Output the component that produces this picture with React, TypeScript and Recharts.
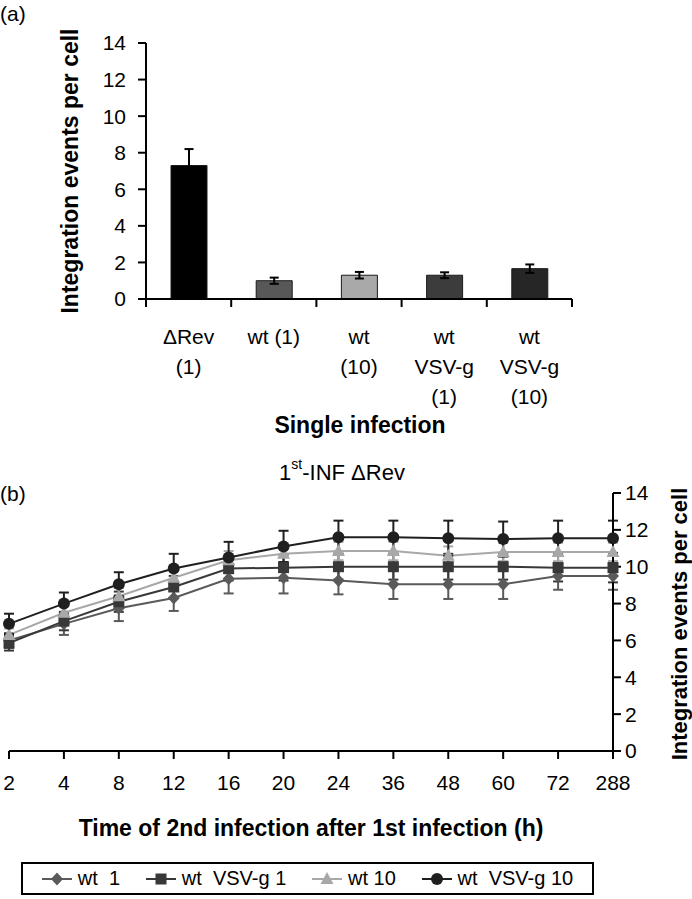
import { BarChart, Bar, Cell, XAxis, YAxis, ErrorBar, LineChart, Line } from 'recharts';

const FONT = "'Liberation Sans', Arial, Helvetica, sans-serif";

// panel (a): single infection
const singleLabels = ['ΔRev\n(1)', 'wt (1)', 'wt\n(10)', 'wt\nVSV-g\n(1)', 'wt\nVSV-g\n(10)'];
const singleValues = [7.3, 1.0, 1.3, 1.3, 1.66];
const singleErrors = [0.9, 0.17, 0.18, 0.16, 0.23];
const singleColors = ['#000000', '#585858', '#a9a9a9', '#3c3c3c', '#262626'];

// panel (b): 2nd infection time course
const hours = ['2', '4', '8', '12', '16', '20', '24', '36', '48', '60', '72', '288'];
const wt1 = [6.0, 6.9, 7.75, 8.3, 9.35, 9.4, 9.25, 9.05, 9.05, 9.05, 9.5, 9.5];
const wt1Err = [0.4, 0.6, 0.7, 0.7, 0.8, 0.85, 0.75, 0.8, 0.8, 0.8, 0.75, 0.75];
const vsv1 = [5.85, 7.05, 8.1, 8.9, 9.9, 9.95, 10.0, 10.0, 10.0, 10.0, 9.95, 9.95];
const vsv1Err = [0.4, 0.5, 0.55, 0.6, 0.65, 0.7, 0.7, 0.7, 0.7, 0.7, 0.75, 0.8];
const wt10 = [6.3, 7.5, 8.4, 9.4, 10.35, 10.7, 10.85, 10.85, 10.6, 10.8, 10.8, 10.8];
const wt10Err = [0.35, 0.4, 0.45, 0.5, 0.5, 0.5, 0.5, 0.5, 0.5, 0.5, 0.5, 0.5];
const vsv10 = [6.9, 8.0, 9.05, 9.9, 10.5, 11.1, 11.6, 11.6, 11.55, 11.5, 11.55, 11.55];
const vsv10Err = [0.55, 0.6, 0.65, 0.8, 0.85, 0.85, 0.9, 0.9, 0.95, 0.95, 0.95, 0.95];

const seriesNames = ['wt  1', 'wt  VSV-g 1', 'wt 10', 'wt  VSV-g 10'];
const seriesKeys = ['wt1', 'vsv1', 'wt10', 'vsv10'];
const seriesColors = ['#5a5a5a', '#383838', '#a8a8a8', '#1f1f1f'];
const seriesShapes = ['diamond', 'square', 'triangle', 'circle'];

const yTicks = [0, 2, 4, 6, 8, 10, 12, 14];

const barData = singleLabels.map((label, i) => ({
  label,
  value: singleValues[i],
  err: singleErrors[i],
}));

const lineData = hours.map((h, i) => ({
  hour: h,
  wt1: wt1[i],
  wt1Err: wt1Err[i],
  vsv1: vsv1[i],
  vsv1Err: vsv1Err[i],
  wt10: wt10[i],
  wt10Err: wt10Err[i],
  vsv10: vsv10[i],
  vsv10Err: vsv10Err[i],
}));

const Marker = ({ shape, cx, cy, color }: any) => {
  if (cx == null || cy == null) return null;
  if (shape === 'circle') return <circle cx={cx} cy={cy} r={6} fill={color} />;
  if (shape === 'square') return <rect x={cx - 5.5} y={cy - 5.5} width={11} height={11} fill={color} />;
  if (shape === 'triangle')
    return <polygon points={`${cx},${cy - 7} ${cx + 6.5},${cy + 5} ${cx - 6.5},${cy + 5}`} fill={color} />;
  return <polygon points={`${cx},${cy - 6.5} ${cx + 6},${cy} ${cx},${cy + 6.5} ${cx - 6},${cy}`} fill={color} />;
};

const BarTick = (props: any) => {
  const { x, y, payload, visibleTicksCount } = props;
  const half = payload.offset || 42.5;
  const lines = String(payload.value).split('\n');
  const axisY = y - 8;
  const last = payload.index === (visibleTicksCount || singleLabels.length) - 1;
  return (
    <g>
      <line x1={x - half} x2={x - half} y1={axisY} y2={axisY + 8} stroke="#000" strokeWidth={2} />
      {last && <line x1={x + half} x2={x + half} y1={axisY} y2={axisY + 8} stroke="#000" strokeWidth={2} />}
      <text x={x} y={axisY + 38} textAnchor="middle" fontSize={21} fontFamily={FONT} fill="#000">
        {lines.map((l, i) => (
          <tspan key={i} x={x} dy={i === 0 ? 7 : 30}>
            {l}
          </tspan>
        ))}
      </text>
    </g>
  );
};

const LegendBox = () => (
  <div
    style={{
      position: 'absolute',
      left: 21,
      top: 862,
      width: 573,
      height: 33,
      border: '2px solid #000',
      boxSizing: 'border-box',
      display: 'flex',
      alignItems: 'center',
      justifyContent: 'space-around',
      fontFamily: FONT,
      fontSize: 20,
      whiteSpace: 'pre',
      padding: '0 6px',
    }}
  >
    {seriesNames.map((name, i) => (
      <div key={name} style={{ display: 'flex', alignItems: 'center' }}>
        <svg width={30} height={16} style={{ marginRight: 6 }}>
          <line x1={0} x2={30} y1={8} y2={8} stroke={seriesColors[i]} strokeWidth={2} />
          <Marker shape={seriesShapes[i]} cx={15} cy={8} color={seriesColors[i]} />
        </svg>
        <span>{name}</span>
      </div>
    ))}
  </div>
);

export default function App() {
  return (
    <div style={{ position: 'absolute', left: 0, top: 0, width: 692, height: 899, background: '#fff' }}>
      <div style={{ position: 'absolute', left: 0, top: 0 }}>
        <BarChart width={600} height={440} data={barData} margin={{ top: 43, right: 28, left: 86, bottom: 31 }}>
          <XAxis
            dataKey="label"
            axisLine={{ stroke: '#000', strokeWidth: 2 }}
            tickLine={false}
            tickSize={8}
            tickMargin={0}
            height={110}
            interval={0}
            tick={<BarTick />}
          />
          <YAxis
            domain={[0, 14]}
            ticks={yTicks}
            width={60}
            axisLine={{ stroke: '#000', strokeWidth: 2 }}
            tickLine={{ stroke: '#000', strokeWidth: 2 }}
            tickSize={8}
            tickMargin={12}
            tick={{ fill: '#000', fontSize: 21, fontFamily: FONT }}
          />
          <Bar dataKey="value" barSize={36} stroke="#1a1a1a" strokeWidth={1} isAnimationActive={false}>
            {barData.map((d, i) => (
              <Cell key={d.label} fill={singleColors[i]} />
            ))}
            <ErrorBar dataKey="err" width={4.5} stroke="#000" strokeWidth={2} />
          </Bar>
        </BarChart>
      </div>

      <div style={{ position: 'absolute', left: 0, top: 440 }}>
        <LineChart width={692} height={459} data={lineData} margin={{ top: 53, right: 29, left: 9, bottom: 108 }}>
          <XAxis
            dataKey="hour"
            scale="point"
            padding={{ left: 0, right: 0 }}
            axisLine={{ stroke: '#000', strokeWidth: 2 }}
            tickLine={{ stroke: '#000', strokeWidth: 2 }}
            tickSize={8}
            tickMargin={16}
            height={40}
            interval={0}
            tick={{ fill: '#000', fontSize: 21, fontFamily: FONT }}
          />
          <YAxis
            orientation="right"
            domain={[0, 14]}
            ticks={yTicks}
            width={50}
            axisLine={{ stroke: '#000', strokeWidth: 2 }}
            tickLine={{ stroke: '#000', strokeWidth: 2 }}
            tickSize={8}
            tickMargin={4}
            tick={{ fill: '#000', fontSize: 21, fontFamily: FONT }}
          />
          {seriesKeys.map((key, i) => (
            <Line
              key={key}
              dataKey={key}
              stroke={seriesColors[i]}
              strokeWidth={2}
              isAnimationActive={false}
              dot={(p: any) => <Marker key={`${key}-${p.index}`} shape={seriesShapes[i]} cx={p.cx} cy={p.cy} color={seriesColors[i]} />}
              activeDot={false}
            >
              <ErrorBar dataKey={`${key}Err`} direction="y" width={5} stroke={seriesColors[i]} strokeWidth={2} />
            </Line>
          ))}
        </LineChart>
      </div>

      <LegendBox />

      <svg width={692} height={899} style={{ position: 'absolute', left: 0, top: 0, pointerEvents: 'none' }} fontFamily={FONT}>
        <text x={0} y={13} fontSize={21} dominantBaseline="central">(a)</text>
        <text
          x={70}
          y={171}
          fontSize={23}
          fontWeight="bold"
          textAnchor="middle"
          dominantBaseline="central"
          transform="rotate(-90 70 171)"
        >
          Integration events per cell
        </text>
        <text x={360} y={425} fontSize={23} fontWeight="bold" textAnchor="middle" dominantBaseline="central">
          Single infection
        </text>
        <text x={0} y={493} fontSize={21} dominantBaseline="central">(b)</text>
        <text x={342} y={472} fontSize={22} textAnchor="middle" dominantBaseline="central">
          1<tspan fontSize={14} dy={-8}>st</tspan>
          <tspan dy={8}>-INF ΔRev</tspan>
        </text>
        <text
          x={679}
          y={624}
          fontSize={22}
          fontWeight="bold"
          textAnchor="middle"
          dominantBaseline="central"
          transform="rotate(-90 679 624)"
        >
          Integration events per cell
        </text>
        <text x={311} y={828} fontSize={23} fontWeight="bold" textAnchor="middle" dominantBaseline="central">
          Time of 2nd infection after 1st infection (h)
        </text>
      </svg>
    </div>
  );
}
